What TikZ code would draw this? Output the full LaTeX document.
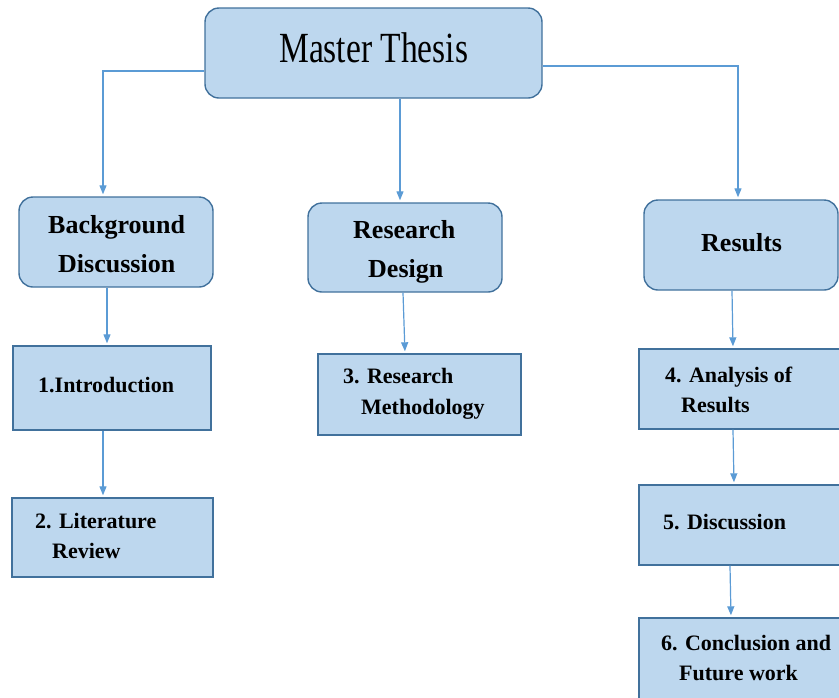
\documentclass[tikz,border=0pt]{standalone}
\usepackage{fontspec}
\setmainfont{Liberation Serif}
\newfontfamily\titlefont[FakeStretch=0.78]{Liberation Serif}
\usetikzlibrary{arrows.meta}
\definecolor{boxfill}{HTML}{BDD7EE}
\definecolor{boxline}{HTML}{41719C}
\definecolor{arrowblue}{HTML}{5B9BD5}
\tikzset{
  pill/.style={draw=boxline, fill=boxfill, line width=1.4pt, rounded corners=14pt, inner sep=0pt},
  plainbox/.style={draw=boxline, fill=boxfill, line width=1.4pt, inner sep=0pt},
  headtext/.style={font=\fontsize{26}{30}\selectfont\bfseries, anchor=base west, inner sep=0pt},
  itemtext/.style={font=\fontsize{22}{26}\selectfont\bfseries, anchor=base west, inner sep=0pt},
  arr/.style={draw=arrowblue, line width=1.2pt, -{Triangle[length=9pt,width=7pt]}, shorten >=2pt},
}
\begin{document}
\begin{tikzpicture}[x=1pt,y=-1pt]
\useasboundingbox (0,0) rectangle (839,697);
\clip (0,0) rectangle (839,697);

% top-level rounded boxes
\node[pill, minimum width=337pt, minimum height=90pt] (master) at (373.5,53) {};
\node[pill, minimum width=194pt, minimum height=90pt] (bg) at (116,242) {};
\node[pill, minimum width=194pt, minimum height=89pt] (rd) at (405,247.5) {};
\node[pill, minimum width=194pt, minimum height=90pt] (res) at (741,245) {};

% chapter boxes
\node[plainbox, minimum width=198pt, minimum height=84pt] (b1) at (112,388) {};
\node[plainbox, minimum width=201pt, minimum height=79pt] (b2) at (112.5,537.5) {};
\node[plainbox, minimum width=203pt, minimum height=81pt] (b3) at (419.5,394.5) {};
\node[plainbox, minimum width=203pt, minimum height=80pt] (b4) at (740.5,389) {};
\node[plainbox, minimum width=203pt, minimum height=80pt] (b5) at (740.5,525) {};
\node[plainbox, minimum width=203pt, minimum height=82pt] (b6) at (740.5,659) {};

% labels
\node[font=\titlefont\fontsize{43}{48}\selectfont, anchor=base west, inner sep=0pt] (tmaster) at (279,62) {Master Thesis};
\node[headtext] (tbg1) at (48,233) {Background};
\node[headtext] (tbg2) at (58,272) {Discussion};
\node[headtext] (trd1) at (353,238) {Research};
\node[headtext] (trd2) at (368,277) {Design};
\node[headtext] (tres) at (701,251) {Results};
\node[itemtext] (t1) at (38,392) {1.Introduction};
\node[itemtext] (t2a) at (35,528) {2. Literature};
\node[itemtext] (t2b) at (52,558) {Review};
\node[itemtext] (t3a) at (343,383) {3. Research};
\node[itemtext] (t3b) at (361,414) {Methodology};
\node[itemtext] (t4a) at (665,382) {4. Analysis of};
\node[itemtext] (t4b) at (681,412) {Results};
\node[itemtext] (t5) at (663,529) {5. Discussion};
\node[itemtext] (t6a) at (661,650) {6. Conclusion and};
\node[itemtext] (t6b) at (679,680) {Future work};

% connectors
\draw[arr] ([yshift=-18pt]master.west) -| ([xshift=-13pt]bg.north);
\draw[arr] ([xshift=26.5pt]master.south) -- ([xshift=-5pt]rd.north);
\draw[arr] ([yshift=-13pt]master.east) -| ([xshift=-3pt]res.north);
\draw[arr] ([xshift=-9pt]bg.south) -- ([xshift=-5pt]b1.north);
\draw[arr] ([xshift=-9pt]b1.south) -- ([xshift=-9.5pt]b2.north);
\draw[arr] ([xshift=-2pt]rd.south) -- ([xshift=-14.5pt]b3.north);
\draw[arr] ([xshift=-9pt]res.south) -- ([xshift=-7.5pt]b4.north);
\draw[arr] ([xshift=-7.5pt]b4.south) -- ([xshift=-6.5pt]b5.north);
\draw[arr] ([xshift=-10.5pt]b5.south) -- ([xshift=-9.5pt]b6.north);
\end{tikzpicture}
\end{document}
